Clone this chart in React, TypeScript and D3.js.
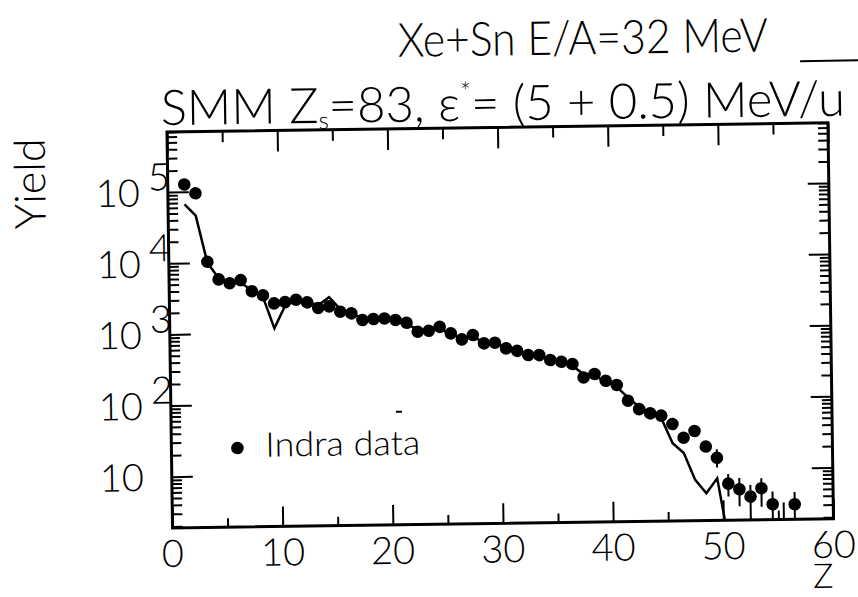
import React, { useRef, useEffect } from 'react';
import * as d3 from 'd3';

// Indra data: charge Z and yield
const dataZ = [
  1, 2, 3, 4, 5, 6, 7, 8, 9, 10, 11, 12, 13, 14, 15, 16, 17, 18, 19, 20,
  21, 22, 23, 24, 25, 26, 27, 28, 29, 30, 31, 32, 33, 34, 35, 36, 37, 38, 39, 40,
  41, 42, 43, 44, 45, 46, 47, 48, 49, 50, 51, 52, 53, 54, 55, 56,
];
const dataYield = [
  1.27e5, 9.5e4, 1.03e4, 5.8e3, 5.1e3, 5.6e3, 3.9e3, 3.4e3, 2.6e3, 2.7e3,
  2.9e3, 2.65e3, 2.2e3, 2.3e3, 1.93e3, 1.82e3, 1.46e3, 1.5e3, 1.52e3, 1.44e3,
  1.31e3, 975, 1.0e3, 1.13e3, 910, 745, 853, 649, 659, 546,
  502, 436, 433, 367, 345, 319, 206, 229, 183, 159,
  95, 72, 62.5, 57.7, 43.8, 28, 34.6, 20.8, 14.4, 6.2,
  5.15, 4.04, 5.27, 3.12, 1.4, 3.09,
];

// error bars on the tail
const errZ = [49, 50, 51, 52, 53, 54, 55, 56];
const errLow = [10.5, 4.1, 2.96, 1.5, 2.9, 1.9, 1.0, 1.9];
const errHigh = [19, 8.5, 7.4, 5.9, 7.3, 4.7, 3.3, 4.6];

// SMM calculation
const smmZ = [
  1, 2, 3, 4, 5, 6, 7, 8, 9, 10, 11, 12, 13, 14, 15, 16, 17, 18, 19, 20,
  21, 22, 23, 24, 25, 26, 27, 28, 29, 30, 31, 32, 33, 34, 35, 36, 37, 38, 39, 40,
  41, 42, 43, 44, 45, 46, 47, 48, 49, 50,
];
const smmYield = [
  6.7e4, 4.6e4, 1.0e4, 6.0e3, 5.2e3, 5.2e3, 4.0e3, 3.2e3, 1.16e3, 2.4e3,
  2.8e3, 2.7e3, 2.4e3, 3.1e3, 2.1e3, 1.8e3, 1.55e3, 1.5e3, 1.45e3, 1.4e3,
  1.25e3, 1.05e3, 1.0e3, 1.05e3, 900, 780, 800, 680, 640, 560,
  500, 450, 420, 370, 340, 300, 230, 215, 180, 150,
  105, 78, 64, 53, 23.5, 17, 7.1, 4.6, 7.4, 0.9,
];

const xTicks = [0, 10, 20, 30, 40, 50, 60];
const xMinorTicks = [5, 15, 25, 35, 45, 55];
const yExponents = [1, 2, 3, 4, 5];

const App: React.FC = () => {
  const ref = useRef<SVGSVGElement | null>(null);

  useEffect(() => {
    if (!ref.current) return;
    const svg = d3.select(ref.current);
    svg.selectAll('*').remove();

    const width = 661;
    const height = 396;
    const font = "Lato, 'DejaVu Sans', sans-serif";

    // the scanned figure is slightly tilted
    const g = svg.append('g')
      .attr('transform', 'translate(167,132) rotate(-0.8)')
      .attr('font-family', font)
      .attr('font-weight', 300)
      .attr('fill', '#000');

    const x = d3.scaleLinear().domain([0, 60]).range([0, width]);
    const y = d3.scaleLog().domain([1.9, 7e5]).range([height, 0]);

    const majors = yExponents.map(e => Math.pow(10, e));
    const minors: number[] = [];
    for (let e = 0; e <= 5; e++) {
      for (let m = 2; m <= 9; m++) {
        const v = m * Math.pow(10, e);
        if (v >= 1.9 && v <= 7e5) minors.push(v);
      }
    }

    const styleAxis = (sel: any) => {
      sel.select('.domain').remove();
      sel.selectAll('line').attr('stroke', '#000').attr('stroke-width', 2);
    };

    // y axes (left and right), ticks pointing inward
    g.append('g').call(d3.axisLeft(y).tickValues(majors).tickSize(-21).tickFormat(() => '')).call(styleAxis);
    g.append('g').call(d3.axisLeft(y).tickValues(minors).tickSize(-10).tickFormat(() => '')).call(styleAxis);
    g.append('g').attr('transform', `translate(${width},0)`)
      .call(d3.axisRight(y).tickValues(majors).tickSize(-21).tickFormat(() => '')).call(styleAxis);
    g.append('g').attr('transform', `translate(${width},0)`)
      .call(d3.axisRight(y).tickValues(minors).tickSize(-10).tickFormat(() => '')).call(styleAxis);

    // x axes (bottom and top)
    g.append('g').attr('transform', `translate(0,${height})`)
      .call(d3.axisBottom(x).tickValues(xTicks).tickSize(-20).tickFormat(() => '')).call(styleAxis);
    g.append('g').attr('transform', `translate(0,${height})`)
      .call(d3.axisBottom(x).tickValues(xMinorTicks).tickSize(-9).tickFormat(() => '')).call(styleAxis);
    g.append('g')
      .call(d3.axisTop(x).tickValues(xTicks).tickSize(-21).tickFormat(() => '')).call(styleAxis);
    g.append('g')
      .call(d3.axisTop(x).tickValues(xMinorTicks).tickSize(-11).tickFormat(() => '')).call(styleAxis);

    // frame
    g.append('rect')
      .attr('width', width)
      .attr('height', height)
      .attr('fill', 'none')
      .attr('stroke', '#000')
      .attr('stroke-width', 3);

    // y tick labels
    const yl = g.append('g').attr('font-size', 38);
    yExponents.forEach(e => {
      const t = yl.append('text')
        .attr('x', -72)
        .attr('y', y(Math.pow(10, e)) + 14);
      t.append('tspan').text('10');
      if (e > 1) {
        t.append('tspan').attr('dx', 8).attr('dy', -16).text(String(e));
      }
    });

    // x tick labels
    g.append('g').attr('font-size', 38).attr('text-anchor', 'middle')
      .selectAll('text')
      .data(xTicks)
      .join('text')
      .attr('x', d => x(d))
      .attr('y', height + 39)
      .text(d => String(d));

    g.append('text')
      .attr('x', x(59))
      .attr('y', height + 69)
      .attr('font-size', 34)
      .attr('text-anchor', 'middle')
      .text('Z');

    g.append('text')
      .attr('transform', `translate(-139,50) rotate(-90)`)
      .attr('font-size', 43)
      .attr('text-anchor', 'middle')
      .attr('dominant-baseline', 'central')
      .text('Yield');

    // titles
    g.append('text')
      .attr('x', 232)
      .attr('y', -72)
      .attr('font-size', 47)
      .attr('textLength', 370)
      .attr('lengthAdjust', 'spacingAndGlyphs')
      .text('Xe+Sn E/A=32 MeV');

    g.append('line')
      .attr('x1', 634).attr('x2', 700)
      .attr('y1', -62).attr('y2', -62)
      .attr('stroke', '#000').attr('stroke-width', 2);

    const t2 = g.append('text')
      .attr('x', -6)
      .attr('y', -7)
      .attr('font-size', 49);
    t2.append('tspan').text('SMM Z');
    t2.append('tspan').attr('font-size', 24).attr('dy', 6).text('s');
    t2.append('tspan').attr('dy', -6).text('=83, ε');
    t2.append('tspan').attr('font-size', 26).attr('dy', -20).text('*');
    t2.append('tspan').attr('dy', 20).text('= (5 + 0.5) MeV/u');

    // data area
    svg.append('defs').append('clipPath').attr('id', 'plot-clip')
      .append('rect').attr('width', width).attr('height', height);
    const plot = g.append('g').attr('clip-path', 'url(#plot-clip)');

    // bins centred at Z + 0.5
    const line = d3.line<number>()
      .x((_, i) => x(smmZ[i] + 0.5))
      .y(d => y(d));
    plot.append('path')
      .datum(smmYield)
      .attr('d', line)
      .attr('fill', 'none')
      .attr('stroke', '#000')
      .attr('stroke-width', 2.5)
      .attr('stroke-linejoin', 'miter');

    plot.append('g')
      .selectAll('line')
      .data(errZ)
      .join('line')
      .attr('x1', d => x(d + 0.5))
      .attr('x2', d => x(d + 0.5))
      .attr('y1', (_, i) => y(errLow[i]))
      .attr('y2', (_, i) => y(errHigh[i]))
      .attr('stroke', '#000')
      .attr('stroke-width', 2);

    plot.append('g')
      .selectAll('circle')
      .data(dataZ)
      .join('circle')
      .attr('cx', d => x(d + 0.5))
      .attr('cy', (_, i) => y(dataYield[i]))
      .attr('r', 6.3)
      .attr('fill', '#000');

    // legend
    g.append('circle').attr('cx', 66).attr('cy', 317).attr('r', 6.3).attr('fill', '#000');
    g.append('text')
      .attr('x', 94)
      .attr('y', 326)
      .attr('font-size', 34)
      .attr('textLength', 155)
      .attr('lengthAdjust', 'spacingAndGlyphs')
      .text('Indra data');
    g.append('line')
      .attr('x1', 225).attr('x2', 231)
      .attr('y1', 283).attr('y2', 283)
      .attr('stroke', '#000').attr('stroke-width', 2);
  }, []);

  return (
    <svg
      ref={ref}
      width={858}
      height={597}
      style={{ position: 'absolute', left: 0, top: 0, background: '#fff' }}
    />
  );
};

export default App;
